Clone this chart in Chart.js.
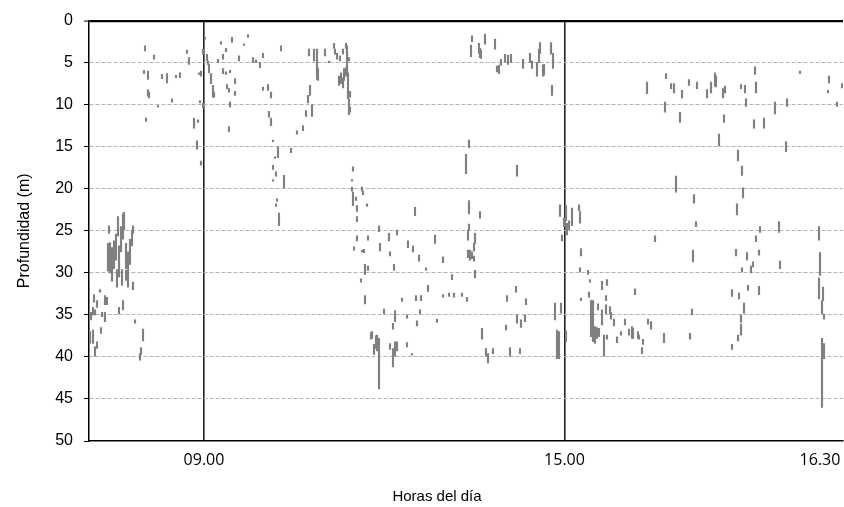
<!DOCTYPE html>
<html>
<head>
<meta charset="utf-8">
<script src="https://cdn.jsdelivr.net/npm/chart.js@4/dist/chart.umd.min.js"></script>
<style>
html,body{margin:0;padding:0;background:#fff;overflow:hidden}
#wrap{width:844px;height:507px;position:relative}
</style>
</head>
<body>
<div id="wrap"><canvas id="c"></canvas></div>
<script>
// Time position of each echo trace (relative units along the recording)
const segTime = [
1,2,4,4,5,6,6,8,8,11,
12,13,16,16,18,19,20,21,23,25,
27,28,29,30,30,32,33,34,34,35,
37,37,39,41,43,44,44,46,51,52,
54,55,56,57,59,59,60,65,69,73,
78,83,87,91,98,100,105,108,109,110,
111,112,112,114,114,116,118,119,120,122,
124,125,129,132,134,134,137,137,138,140,
140,141,141,143,146,146,150,155,159,164,
167,171,174,174,179,180,182,182,184,184,
184,186,187,187,188,189,190,192,195,202,
208,214,217,219,220,221,223,225,228,229,
236,240,245,246,248,250,251,252,254,254,
255,257,257,258,259,260,260,261,261,263,
263,264,264,265,267,268,268,268,272,273,
273,274,275,276,276,278,279,279,282,283,
285,287,288,290,290,291,295,300,301,301,
304,304,305,306,306,308,308,313,318,318,
319,323,324,326,327,328,330,331,332,337,
339,346,348,354,354,360,363,365,373,377,
378,379,379,380,380,380,381,382,383,383,
385,385,386,386,390,391,391,392,393,396,
397,399,404,406,408,410,412,416,417,418,
419,421,422,427,428,428,431,432,434,436,
437,441,443,448,450,451,454,455,462,463,
464,466,468,470,471,472,473,475,477,477,
478,480,483,490,491,491,492,492,499,500,
501,502,503,504,506,508,509,510,513,513,
515,517,517,518,518,521,522,525,528,532,
536,540,543,544,546,549,550,553,554,558,
559,562,566,575,576,577,582,585,587,591,
593,600,601,603,604,605,607,608,618,622,
626,627,630,634,635,636,643,643,647,648,
649,649,650,652,652,652,653,653,654,655,
656,657,658,659,662,664,665,666,667,667,
670,670,671,675,686,690,691,697,698,711,
730,730,731,733,733,734,735,735,739,740,
748,753
];
// Upper depth of each trace (m)
const segTop = [
37.0,34.7,34.1,36.8,32.6,34.4,38.8,33.3,38.2,32.0,
36.5,34.7,32.7,34.7,32.9,26.5,24.4,26.4,27.0,26.2,
25.4,29.6,23.3,26.8,34.1,24.5,29.6,23.0,33.3,22.8,
26.5,29.7,27.5,26.0,24.9,24.4,31.1,35.6,39.6,38.9,
36.7,5.9,3.0,11.6,6.0,8.2,8.5,4.1,10.1,6.4,
6.3,9.3,6.5,6.2,3.5,4.4,11.6,14.3,11.8,6.2,
9.5,6.0,16.7,3.4,9.8,2.0,4.0,4.8,5.2,6.3,
7.7,8.5,4.6,2.5,4.0,5.7,3.3,6.1,7.6,8.1,
12.6,5.9,9.7,2.0,6.9,8.4,4.2,2.75,1.7,4.4,
4.7,5.0,3.9,7.9,7.6,10.8,8.5,11.6,14.2,17.2,
18.9,16.2,18.0,21.8,21.2,15.0,22.9,3.0,18.4,15.2,
13.1,12.5,10.7,8.9,3.4,7.7,10.0,3.4,3.4,5.7,
3.4,4.8,2.7,3.4,3.9,6.6,4.2,6.2,3.4,6.8,
5.7,2.7,5.6,3.0,6.2,9.3,4.4,8.4,10.3,18.9,
19.8,17.4,20.4,26.9,21.0,22.0,23.3,25.6,30.7,19.8,
27.3,20.3,27.2,29.0,32.7,21.8,25.6,29.2,37.1,37.0,
38.5,37.5,37.4,37.8,24.4,26.5,34.3,25.3,27.5,38.4,
36.0,39.0,29.0,34.5,38.2,24.9,38.2,33.0,35.0,38.3,
26.2,39.6,26.8,22.2,32.7,35.7,27.9,34.4,32.7,29.4,
31.5,25.5,35.5,28.1,32.6,32.4,30.2,32.4,32.4,15.9,
32.9,24.9,27.3,14.2,21.4,24.2,27.3,2.9,1.8,27.5,
26.5,28.0,25.3,29.7,2.7,3.3,22.7,3.5,36.6,1.6,
39.0,39.6,39.0,2.2,5.4,5.3,4.6,4.0,36.2,32.7,
4.1,38.9,4.0,31.6,17.2,35.0,39.0,35.6,4.6,35.0,
33.1,3.9,4.8,5.0,3.4,2.6,5.3,5.2,2.6,7.7,
3.9,33.6,36.8,37.0,21.9,33.6,25.5,23.5,22.0,36.9,
24.1,23.8,22.3,21.9,22.7,29.4,27.1,33.0,29.7,32.3,
30.8,33.3,33.3,33.3,36.4,36.5,33.7,36.6,31.0,34.4,
37.4,32.7,33.8,30.8,37.4,34.0,34.7,35.5,37.6,37.0,
35.5,36.7,36.4,36.6,31.9,37.0,37.4,38.9,37.9,7.3,
35.5,35.8,25.6,37.2,9.7,6.3,7.5,7.5,18.5,10.9,
8.3,7.0,37.2,34.3,27.3,20.7,23.9,7.3,8.2,7.3,
6.2,6.6,13.5,8.1,11.2,7.8,32.0,38.5,27.2,21.8,
15.4,37.4,32.4,7.6,35.0,36.1,17.3,29.4,19.9,33.6,
7.7,9.3,27.6,31.5,29.2,28.7,11.8,5.5,7.3,25.6,
27.3,31.6,24.5,11.6,9.7,23.9,28.6,14.4,9.3,6.0,
24.5,30.6,27.6,33.3,37.8,31.7,34.9,38.4,8.3,6.6,
9.7,7.5
];
// Lower depth of each trace (m)
const segBottom = [
38.4,35.6,35.0,38.4,33.5,35.0,39.9,34.1,39.0,32.3,
37.2,35.2,33.8,35.8,33.8,29.8,25.3,30.0,31.0,29.5,
28.5,31.7,25.6,30.5,34.9,27.5,31.5,26.0,34.4,24.9,
29.5,30.9,31.7,29.0,26.8,25.3,32.0,36.0,40.4,39.7,
38.1,6.3,3.6,12.0,7.0,9.0,9.2,4.6,10.3,6.9,
7.4,9.7,6.8,6.8,3.9,5.2,12.8,15.3,12.1,6.4,
9.8,6.6,17.2,4.0,10.4,2.2,4.8,5.2,6.2,7.5,
9.1,9.1,5.0,2.8,4.6,6.3,3.7,6.4,8.1,8.5,
13.2,6.2,10.3,2.6,7.5,8.9,4.8,2.95,2.0,5.0,
5.0,5.6,4.4,8.3,8.3,11.5,9.2,12.5,14.4,17.7,
19.1,16.4,18.5,22.1,21.5,16.3,24.4,3.6,19.9,15.7,
13.5,13.1,11.4,9.8,4.2,8.9,11.4,4.8,7.0,7.1,
4.2,5.0,3.3,4.0,4.6,7.7,4.8,7.5,4.0,8.0,
7.1,3.3,6.6,6.2,9.3,11.2,4.8,9.1,10.9,19.1,
20.3,17.9,22.0,27.3,21.4,22.7,23.9,26.2,31.1,20.3,
27.5,20.7,27.6,30.2,33.7,22.1,26.1,29.7,37.9,37.8,
39.7,39.0,39.3,43.8,25.1,27.4,34.9,26.2,28.0,39.1,
36.7,41.2,29.7,35.8,39.9,25.5,39.3,33.4,35.4,38.8,
27.0,39.8,27.5,23.2,33.3,36.3,28.6,34.9,33.3,29.7,
32.2,26.5,35.9,28.8,32.9,32.8,30.8,32.9,32.8,18.2,
33.4,26.1,28.2,15.1,23.0,24.9,28.5,4.3,2.5,28.3,
27.4,28.6,26.5,30.6,3.9,4.4,23.5,4.5,37.9,2.8,
39.9,40.7,39.6,3.4,6.1,6.3,5.3,4.9,36.8,33.4,
5.2,39.9,5.0,32.3,18.5,36.0,39.6,36.5,5.7,35.8,
33.8,5.0,5.7,6.6,5.0,3.9,6.6,6.5,4.0,8.9,
5.7,35.6,40.2,40.2,23.3,34.8,26.2,24.5,23.8,38.2,
25.5,24.9,24.4,22.6,24.1,29.9,28.0,33.3,30.2,32.9,
31.1,37.6,34.9,38.2,38.4,37.8,34.4,37.6,32.0,36.2,
39.9,33.3,34.9,31.5,37.9,34.9,35.5,36.3,38.3,37.4,
36.2,37.4,37.8,37.8,32.6,37.8,37.9,39.6,38.5,8.7,
36.1,36.7,26.3,38.3,10.9,6.9,8.1,8.6,20.4,12.1,
9.2,7.7,37.9,35.0,28.7,21.7,24.5,8.1,9.2,8.6,
7.8,7.9,14.9,9.2,12.1,8.6,32.8,39.1,28.0,23.1,
16.7,38.1,33.1,8.1,35.9,37.4,18.4,29.9,21.1,34.8,
8.6,10.2,28.5,32.1,30.0,29.3,12.8,6.4,8.6,26.3,
27.9,32.6,25.2,12.8,11.1,25.2,29.5,15.6,10.2,6.3,
26.1,33.1,30.3,34.9,46.0,33.3,35.5,40.2,8.6,7.4,
10.2,8.0
];
// Hour tick positions / labels on the time axis
const hourTicks = [115, 475.5, 731];
const hourLabels = ['09.00', '15.00', '16.30'];
const markedHours = ['09.00', '15.00'];
const timeMin = 0, timeMax = 754;
const depthMin = 0, depthMax = 50, depthStep = 5;

const traces = segTime.map((t, i) => ({ x: t, y: [segTop[i], segBottom[i]] }));

new Chart(document.getElementById('c'), {
  type: 'bar',
  data: {
    datasets: [{
      label: 'Ecotrazos',
      data: traces,
      backgroundColor: '#808080',
      borderWidth: 0,
      barThickness: 1.5,
      minBarLength: 1
    }]
  },
  options: {
    responsive: true,
    maintainAspectRatio: false,
    animation: false,
    events: [],
    layout: { padding: { left: 31, right: 1, top: 14, bottom: 0 } },
    plugins: {
      legend: { display: false },
      tooltip: { enabled: false },
      title: {
        display: true,
        position: 'bottom',
        text: 'Horas del día',
        color: '#000',
        font: { family: 'Liberation Sans', size: 15, weight: 'normal' },
        padding: { top: 0, bottom: 1 }
      }
    },
    scales: {
      x: {
        type: 'linear',
        min: timeMin,
        max: timeMax,
        offset: false,
        afterBuildTicks: s => { s.ticks = hourTicks.map(v => ({ value: v })); },
        afterFit: s => { s.height = 47; s.paddingLeft = 0; s.paddingRight = 0; },
        ticks: {
          autoSkip: false,
          maxRotation: 0,
          padding: 10,
          color: '#000',
          font: { family: 'Open Sans', size: 16 },
          callback: v => { const i = hourTicks.indexOf(v); return i >= 0 ? hourLabels[i] : ''; }
        },
        grid: {
          offset: false,
          drawTicks: false,
          lineWidth: 1.6,
          color: ctx => {
            const i = ctx.tick ? hourTicks.indexOf(ctx.tick.value) : -1;
            return (i >= 0 && markedHours.includes(hourLabels[i])) ? '#222' : 'rgba(0,0,0,0)';
          }
        },
        border: { color: '#000', width: 1.5 }
      },
      y: {
        reverse: true,
        min: depthMin,
        max: depthMax,
        afterFit: s => { s.width = 58; },
        ticks: {
          stepSize: depthStep,
          padding: 11,
          color: '#000',
          font: { family: 'Liberation Sans', size: 16 }
        },
        grid: {
          color: ctx => {
            const v = ctx.tick ? ctx.tick.value : -1;
            if (v === depthMin) return '#000';
            if (v === depthMax) return 'rgba(0,0,0,0)';
            return '#b4b4b4';
          },
          lineWidth: ctx => (ctx.tick && ctx.tick.value === depthMin) ? 2.2 : 1,
          tickColor: '#000',
          tickLength: 5,
          tickWidth: 1
        },
        border: {
          color: '#000',
          width: 1.5,
          dash: ctx => (ctx.tick && ctx.tick.value > depthMin && ctx.tick.value < depthMax) ? [4, 2] : []
        },
        title: {
          display: true,
          text: 'Profundidad (m)',
          color: '#000',
          font: { family: 'Liberation Sans', size: 16 },
          padding: { top: -15.6, bottom: 0 }
        }
      }
    }
  }
});
</script>
</body>
</html>
